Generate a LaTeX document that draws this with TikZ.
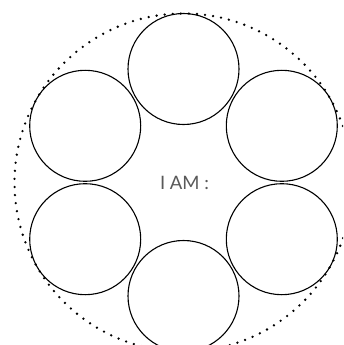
\documentclass[tikz,border=0pt]{standalone}
\usepackage{fontspec}
\setmainfont{Lato}
\begin{document}
\begin{tikzpicture}[x=1pt,y=-1pt,
  petal/.style={circle,draw=black,line width=1.1pt,minimum size=111pt,inner sep=0pt},
  ring/.style={draw=black,line width=2.6pt,line cap=round,dash pattern=on 0pt off 8.1pt},
  label/.style={text=black!65,font=\fontsize{18.5}{22}\selectfont,inner sep=0pt}]
\useasboundingbox (0,0) rectangle (343,345);
\clip (0,0) rectangle (343,345);
\draw[ring] (183.5,182.5) circle[radius=169];
\node[petal] (top) at (183.5,69) {};
\node[petal] (ul) at (85.2,125.8) {};
\node[petal] (ur) at (281.8,125.8) {};
\node[petal] (ll) at (85.2,239.2) {};
\node[petal] (lr) at (281.8,239.2) {};
\node[petal] (bot) at (183.5,296) {};
\node[label] (t) at (184.5,183) {I AM :};
\end{tikzpicture}
\end{document}
